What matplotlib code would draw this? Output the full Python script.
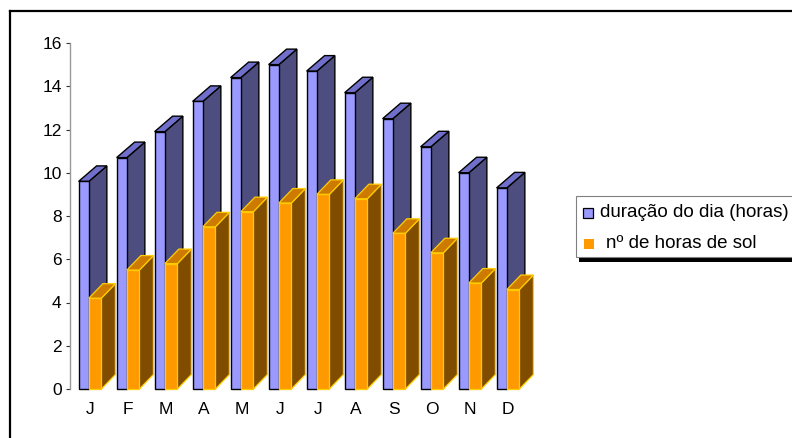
import matplotlib
matplotlib.use("Agg")
import matplotlib.pyplot as plt
from matplotlib.patches import Polygon, Rectangle
from matplotlib.lines import Line2D

months = ["J", "F", "M", "A", "M", "J", "J", "A", "S", "O", "N", "D"]
day_length = [9.6, 10.7, 11.9, 13.3, 14.4, 15.0, 14.7, 13.7, 12.5, 11.2, 10.0, 9.3]
sun_hours = [4.2, 5.5, 5.8, 7.5, 8.2, 8.6, 9.0, 8.8, 7.2, 6.3, 4.9, 4.6]
series_names = ["duração do dia (horas)", "nº de horas de sol"]
y_ticks = [0, 2, 4, 6, 8, 10, 12, 14, 16]

plt.rcParams["font.family"] = ["Liberation Sans", "DejaVu Sans"]

W, H = 792, 438
fig = plt.figure(figsize=(W / 100, H / 100), dpi=100)
fig.patch.set_facecolor("white")


def fx(px):
    return px / W


def fy(py):
    return 1 - py / H


# plot area in pixel layout
ax_left, ax_right, ax_top, ax_bottom = 70, 560, 43, 389
step_px = 38.0      # spacing between month clusters
first_px = 90.0     # centre of first cluster
ax = fig.add_axes([fx(ax_left), fy(ax_bottom),
                   (ax_right - ax_left) / W, (ax_bottom - ax_top) / H])
ax.set_xlim((ax_left - first_px) / step_px, (ax_right - first_px) / step_px)
ax.set_ylim(0, 16)
ax.patch.set_alpha(0)

ypx = (ax_bottom - ax_top) / 16.0   # pixels per hour


def bar3d(x0, x1, v, dxp, dyp, front, side, top, edge, lw):
    dx = dxp / step_px
    dy = dyp / ypx
    side_poly = Polygon([(x1, 0), (x1 + dx, dy), (x1 + dx, v + dy), (x1, v)],
                        closed=True, facecolor=side, edgecolor=edge, lw=lw,
                        joinstyle="miter", clip_on=False)
    top_poly = Polygon([(x0, v), (x1, v), (x1 + dx, v + dy), (x0 + dx, v + dy)],
                       closed=True, facecolor=top, edgecolor=edge, lw=lw,
                       joinstyle="miter", clip_on=False)
    ax.add_patch(side_poly)
    ax.add_patch(top_poly)
    ax.bar([x0], [v], width=x1 - x0, align="edge", color=front,
           edgecolor=edge, linewidth=lw, clip_on=False)


blue = dict(front="#9999FF", side="#4D4D80", top="#7070CC", edge="black", lw=1.0)
orange = dict(front="#FF9900", side="#7F4C00", top="#CC7A00", edge="#FFCC00", lw=0.9)

for i, (d, s) in enumerate(zip(day_length, sun_hours)):
    bar3d(i - 0.30, i - 0.03, d, 18, 15.5, **blue)
    bar3d(i - 0.03, i + 0.30, s, 14, 14.5, **orange)

ax.set_yticks(y_ticks)
ax.set_yticklabels([str(t) for t in y_ticks])
ax.set_xticks(range(len(months)))
ax.set_xticklabels(months)
ax.tick_params(axis="y", length=3, width=0.8, color="#333333", pad=3,
               labelsize=12.5, labelcolor="black")
ax.tick_params(axis="x", length=0, pad=9, labelsize=12.5, labelcolor="black")
for side_name in ["top", "right", "bottom"]:
    ax.spines[side_name].set_visible(False)
ax.spines["left"].set_color("#999999")
ax.spines["left"].set_linewidth(1.0)

# outer chart frame
fig.add_artist(Line2D([fx(10), fx(10)], [fy(11), fy(440)], color="black", lw=1.6,
                      transform=fig.transFigure))
fig.add_artist(Line2D([fx(10), fx(795)], [fy(11), fy(11)], color="black", lw=1.6,
                      transform=fig.transFigure))

# legend box with shadow
fig.add_artist(Rectangle((fx(579), fy(262)), fx(230), 5 / H, facecolor="black",
                         edgecolor="none", transform=fig.transFigure))
fig.add_artist(Rectangle((fx(576), fy(257)), fx(230), 61 / H, facecolor="white",
                         edgecolor="#808080", lw=0.8, transform=fig.transFigure))
fig.add_artist(Rectangle((fx(583), fy(218)), fx(10), 10 / H, facecolor="#9999FF",
                         edgecolor="black", lw=0.9, transform=fig.transFigure))
fig.add_artist(Rectangle((fx(583.5), fy(249)), fx(10.5), 10 / H, facecolor="#FF9900",
                         edgecolor="none", transform=fig.transFigure))
fig.text(fx(600), fy(213), series_names[0], fontsize=13.5, va="center", ha="left")
fig.text(fx(606), fy(244), series_names[1], fontsize=13.5, va="center", ha="left")

fig.savefig("out.png", dpi=100, facecolor="white")
